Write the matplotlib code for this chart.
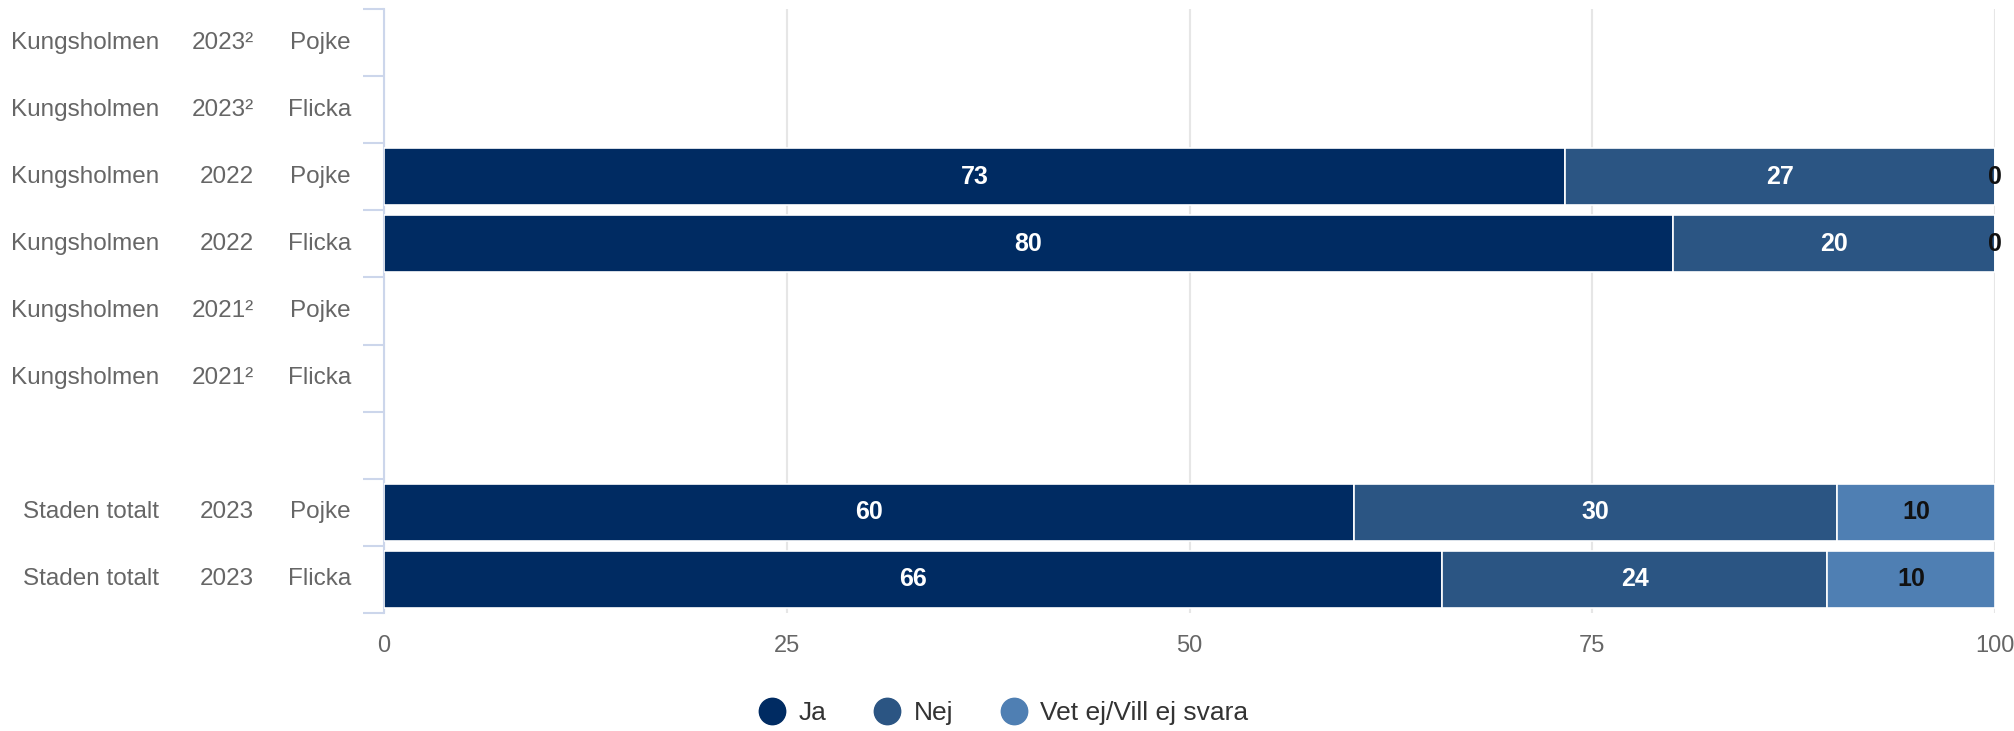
import numpy as np
import matplotlib
matplotlib.use("Agg")
import matplotlib.pyplot as plt
from matplotlib.lines import Line2D

plt.rcParams['font.family'] = ['Liberation Sans', 'DejaVu Sans']

# rows, top to bottom; empty strings mark the spacer row
regions = ["Kungsholmen", "Kungsholmen", "Kungsholmen", "Kungsholmen",
           "Kungsholmen", "Kungsholmen", "", "Staden totalt", "Staden totalt"]
years = ["2023²", "2023²", "2022", "2022", "2021²", "2021²", "", "2023", "2023"]
genders = ["Pojke", "Flicka", "Pojke", "Flicka", "Pojke", "Flicka", "", "Pojke", "Flicka"]

series_names = ["Ja", "Nej", "Vet ej/Vill ej svara"]
# NaN = no data for that row
ja = [np.nan, np.nan, 73.3, 80.0, np.nan, np.nan, np.nan, 60.2, 65.7]
nej = [np.nan, np.nan, 26.7, 20.0, np.nan, np.nan, np.nan, 30.0, 23.9]
vet = [np.nan, np.nan, 0.0, 0.0, np.nan, np.nan, np.nan, 9.8, 10.4]

colors = ["#002b62", "#2b5583", "#4f7fb3"]
label_colors = ["white", "white", "#111111"]


def main() -> None:
    fig = plt.figure(figsize=(20.15, 7.31), dpi=100)
    ax = fig.add_axes([384 / 2015, 1 - 613 / 731, 1611 / 2015, 604 / 731])

    y = np.arange(len(regions))
    left = np.zeros(len(regions))
    for vals, col, lcol in zip([ja, nej, vet], colors, label_colors):
        vals = np.array(vals, dtype=float)
        mask = ~np.isnan(vals)
        ax.barh(y[mask], vals[mask], left=left[mask], height=0.85, color=col,
                edgecolor="white", linewidth=1.2, zorder=3)
        for yi, v, l in zip(y[mask], vals[mask], left[mask]):
            c = lcol if v > 0 else "#111111"
            ax.text(l + v / 2, yi, f"{v:.0f}", ha="center", va="center",
                    color=c, fontsize=18, fontweight="bold", zorder=4)
        left[mask] += vals[mask]

    ax.set_xlim(0, 100)
    ax.set_ylim(len(regions) - 0.5, -0.5)
    ax.set_xticks([0, 25, 50, 75, 100])
    ax.tick_params(axis="x", length=0, labelsize=17, labelcolor="#666666", pad=16)
    ax.set_yticks(np.arange(len(regions) + 1) - 0.5)
    ax.set_yticklabels([])
    ax.tick_params(axis="y", length=15, width=1.5, color="#ccd6eb")
    ax.grid(axis="x", color="#e6e6e6", linewidth=1.5, zorder=0)
    for s in ["top", "right", "bottom"]:
        ax.spines[s].set_visible(False)
    ax.spines["left"].set_color("#ccd6eb")
    ax.spines["left"].set_linewidth(1.5)

    tr = ax.get_yaxis_transform()
    for yi, (r, yr, g) in enumerate(zip(regions, years, genders)):
        ax.text(-0.1397, yi, r, transform=tr, ha="right", va="center",
                fontsize=17.5, color="#666666")
        ax.text(-0.0807, yi, yr, transform=tr, ha="right", va="center",
                fontsize=17.5, color="#666666")
        ax.text(-0.0205, yi, g, transform=tr, ha="right", va="center",
                fontsize=17.5, color="#666666")

    handles = [Line2D([], [], marker="o", linestyle="", markersize=19,
                      markerfacecolor=c, markeredgecolor=c) for c in colors]
    fig.legend(handles, series_names, loc="center", ncol=3,
               bbox_to_anchor=(0.498, 1 - 713 / 731), frameon=False,
               fontsize=19, labelcolor="#333333", handlelength=1.0,
               handletextpad=0.5, columnspacing=1.8)

    fig.savefig("out.png", dpi=100)


if __name__ == "__main__":
    main()
